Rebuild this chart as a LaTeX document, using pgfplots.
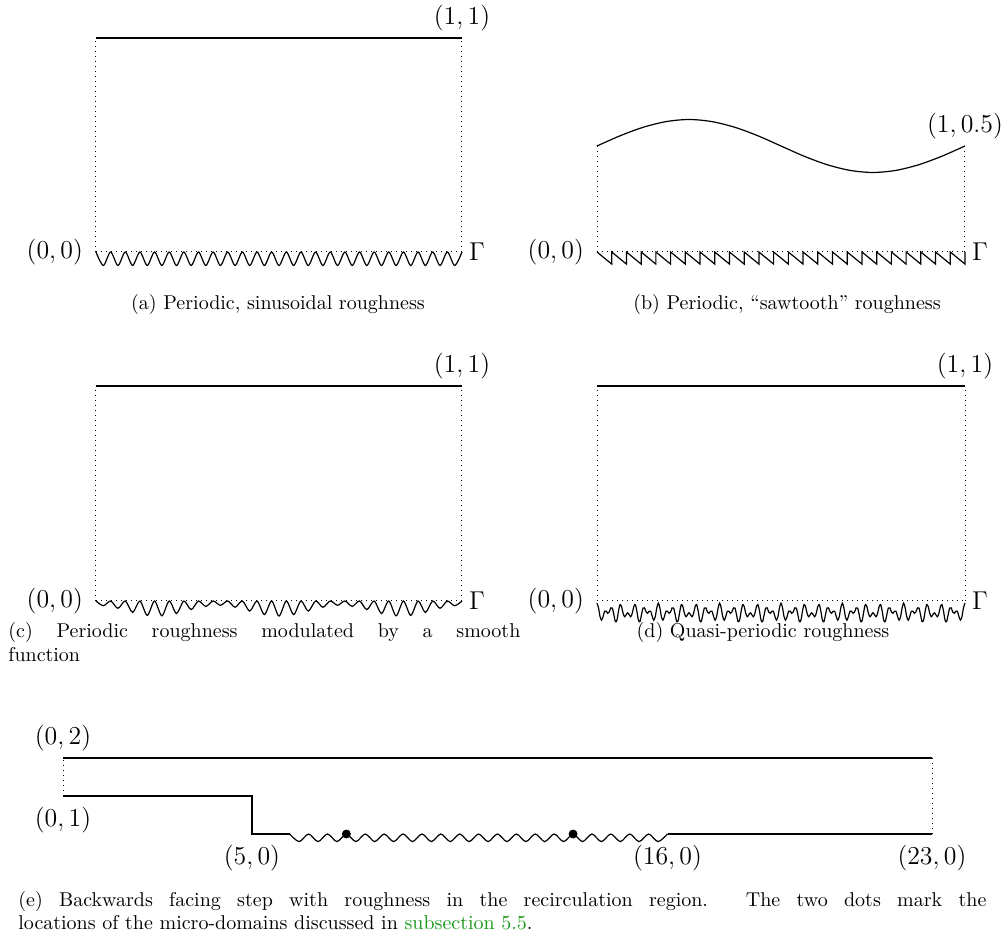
\documentclass[border=0pt]{standalone}
\usepackage{fix-cm}
\usepackage{xcolor}
\usepackage{pgfplots}
\pgfplotsset{compat=1.18}
\definecolor{linkgreen}{rgb}{0.1,0.6,0.1}
\newcommand{\lbl}{\fontsize{12.9}{15.5}\selectfont}
\pgfplotsset{
  panel/.style={axis lines=none, ticks=none, scale only axis, clip=false, anchor=south west, ymin=0},
  wall/.style={black, line width=0.6pt},
  dots/.style={black, line width=0.5pt, dotted},
}
\tikzset{lab/.style={font=\lbl}}
\begin{document}
\begin{tikzpicture}
\path[use as bounding box] (0pt,0pt) rectangle (501.5pt,-470.5pt);

% ---------- (a) ----------
\begin{axis}[panel, at={(48pt,-126pt)}, width=183pt, height=107pt, xmin=0, xmax=50, ymax=1]
\addplot[dots] coordinates {(0,0)(0,1)};
\addplot[dots] coordinates {(50,0)(50,1)};
\addplot[dots] coordinates {(0,0)(50,0)};
\addplot[wall] coordinates {(0,1)(50,1)};
\addplot[wall, smooth] coordinates {(0,0)(1,-0.063)(2,0)(3,-0.063)(4,0)(5,-0.063)(6,0)(7,-0.063)(8,0)(9,-0.063)(10,0)(11,-0.063)(12,0)(13,-0.063)(14,0)(15,-0.063)(16,0)(17,-0.063)(18,0)(19,-0.063)(20,0)(21,-0.063)(22,0)(23,-0.063)(24,0)(25,-0.063)(26,0)(27,-0.063)(28,0)(29,-0.063)(30,0)(31,-0.063)(32,0)(33,-0.063)(34,0)(35,-0.063)(36,0)(37,-0.063)(38,0)(39,-0.063)(40,0)(41,-0.063)(42,0)(43,-0.063)(44,0)(45,-0.063)(46,0)(47,-0.063)(48,0)(49,-0.063)(50,0)};
\node[lab, above] at (axis cs:50,1) {$(1,1)$};
\node[lab, anchor=east, xshift=-3pt] at (axis cs:0,0) {$(0,0)$};
\node[lab, right] at (axis cs:50,0) {$\Gamma$};
\end{axis}

% ---------- (b) ----------
\begin{axis}[panel, at={(298.5pt,-126pt)}, width=184pt, height=53pt, xmin=0, xmax=400, ymax=0.5]
\addplot[dots] coordinates {(0,0)(0,0.5)};
\addplot[dots] coordinates {(400,0)(400,0.5)};
\addplot[dots] coordinates {(0,0)(400,0)};
\addplot[wall, smooth] coordinates {(0,0.5)(25,0.548)(50,0.588)(75,0.615)(100,0.625)(125,0.615)(150,0.588)(175,0.548)(200,0.5)(225,0.452)(250,0.412)(275,0.385)(300,0.375)(325,0.385)(350,0.412)(375,0.452)(400,0.5)};
\addplot[wall, sharp plot] coordinates {(0,0)(16,-0.057)(16,0)(32,-0.057)(32,0)(48,-0.057)(48,0)(64,-0.057)(64,0)(80,-0.057)(80,0)(96,-0.057)(96,0)(112,-0.057)(112,0)(128,-0.057)(128,0)(144,-0.057)(144,0)(160,-0.057)(160,0)(176,-0.057)(176,0)(192,-0.057)(192,0)(208,-0.057)(208,0)(224,-0.057)(224,0)(240,-0.057)(240,0)(256,-0.057)(256,0)(272,-0.057)(272,0)(288,-0.057)(288,0)(304,-0.057)(304,0)(320,-0.057)(320,0)(336,-0.057)(336,0)(352,-0.057)(352,0)(368,-0.057)(368,0)(384,-0.057)(384,0)(400,-0.057)(400,0)};
\node[lab, above] at (axis cs:400,0.5) {$(1,0.5)$};
\node[lab, anchor=east, xshift=-3pt] at (axis cs:0,0) {$(0,0)$};
\node[lab, right] at (axis cs:400,0) {$\Gamma$};
\end{axis}

% ---------- (c) ----------
\begin{axis}[panel, at={(48pt,-300.5pt)}, width=183pt, height=107.5pt, xmin=0, xmax=50, ymax=1]
\addplot[dots] coordinates {(0,0)(0,1)};
\addplot[dots] coordinates {(50,0)(50,1)};
\addplot[dots] coordinates {(0,0)(50,0)};
\addplot[wall] coordinates {(0,1)(50,1)};
\addplot[wall, smooth] coordinates {(0,0)(1,-0.022)(2,0)(3,-0.034)(4,0)(5,-0.053)(6,0)(7,-0.067)(8,0)(9,-0.069)(10,0)(11,-0.058)(12,0)(13,-0.040)(14,0)(15,-0.025)(16,0)(17,-0.020)(18,0)(19,-0.029)(20,0)(21,-0.047)(22,0)(23,-0.063)(24,0)(25,-0.070)(26,0)(27,-0.063)(28,0)(29,-0.047)(30,0)(31,-0.029)(32,0)(33,-0.020)(34,0)(35,-0.025)(36,0)(37,-0.040)(38,0)(39,-0.058)(40,0)(41,-0.069)(42,0)(43,-0.067)(44,0)(45,-0.053)(46,0)(47,-0.034)(48,0)(49,-0.022)(50,0)};
\node[lab, above] at (axis cs:50,1) {$(1,1)$};
\node[lab, anchor=east, xshift=-3pt] at (axis cs:0,0) {$(0,0)$};
\node[lab, right] at (axis cs:50,0) {$\Gamma$};
\end{axis}

% ---------- (d) ----------
\begin{axis}[panel, at={(298.5pt,-300.5pt)}, width=184pt, height=107.5pt, xmin=0, xmax=240, ymax=1000]
\addplot[dots] coordinates {(0,0)(0,1000)};
\addplot[dots] coordinates {(240,0)(240,1000)};
\addplot[dots] coordinates {(0,0)(240,0)};
\addplot[wall] coordinates {(0,1000)(240,1000)};
\addplot[wall, smooth] coordinates {
(0,-10)(1,-32)(2,-73)(3,-89)(4,-71)(5,-48)(6,-48)(7,-57)(8,-51)(9,-32)(10,-33)(11,-64)(12,-96)(13,-89)(14,-48)(15,-17)(16,-26)(17,-57)(18,-73)(19,-64)(20,-55)(21,-64)(22,-73)(23,-57)(24,-26)(25,-17)(26,-48)(27,-89)(28,-96)(29,-64)(30,-33)(31,-32)(32,-51)(33,-57)(34,-48)(35,-48)(36,-71)(37,-89)(38,-73)(39,-32)
(40,-10)(41,-32)(42,-73)(43,-89)(44,-71)(45,-48)(46,-48)(47,-57)(48,-51)(49,-32)(50,-33)(51,-64)(52,-96)(53,-89)(54,-48)(55,-17)(56,-26)(57,-57)(58,-73)(59,-64)(60,-55)(61,-64)(62,-73)(63,-57)(64,-26)(65,-17)(66,-48)(67,-89)(68,-96)(69,-64)(70,-33)(71,-32)(72,-51)(73,-57)(74,-48)(75,-48)(76,-71)(77,-89)(78,-73)(79,-32)
(80,-10)(81,-32)(82,-73)(83,-89)(84,-71)(85,-48)(86,-48)(87,-57)(88,-51)(89,-32)(90,-33)(91,-64)(92,-96)(93,-89)(94,-48)(95,-17)(96,-26)(97,-57)(98,-73)(99,-64)(100,-55)(101,-64)(102,-73)(103,-57)(104,-26)(105,-17)(106,-48)(107,-89)(108,-96)(109,-64)(110,-33)(111,-32)(112,-51)(113,-57)(114,-48)(115,-48)(116,-71)(117,-89)(118,-73)(119,-32)
(120,-10)(121,-32)(122,-73)(123,-89)(124,-71)(125,-48)(126,-48)(127,-57)(128,-51)(129,-32)(130,-33)(131,-64)(132,-96)(133,-89)(134,-48)(135,-17)(136,-26)(137,-57)(138,-73)(139,-64)(140,-55)(141,-64)(142,-73)(143,-57)(144,-26)(145,-17)(146,-48)(147,-89)(148,-96)(149,-64)(150,-33)(151,-32)(152,-51)(153,-57)(154,-48)(155,-48)(156,-71)(157,-89)(158,-73)(159,-32)
(160,-10)(161,-32)(162,-73)(163,-89)(164,-71)(165,-48)(166,-48)(167,-57)(168,-51)(169,-32)(170,-33)(171,-64)(172,-96)(173,-89)(174,-48)(175,-17)(176,-26)(177,-57)(178,-73)(179,-64)(180,-55)(181,-64)(182,-73)(183,-57)(184,-26)(185,-17)(186,-48)(187,-89)(188,-96)(189,-64)(190,-33)(191,-32)(192,-51)(193,-57)(194,-48)(195,-48)(196,-71)(197,-89)(198,-73)(199,-32)
(200,-10)(201,-32)(202,-73)(203,-89)(204,-71)(205,-48)(206,-48)(207,-57)(208,-51)(209,-32)(210,-33)(211,-64)(212,-96)(213,-89)(214,-48)(215,-17)(216,-26)(217,-57)(218,-73)(219,-64)(220,-55)(221,-64)(222,-73)(223,-57)(224,-26)(225,-17)(226,-48)(227,-89)(228,-96)(229,-64)(230,-33)(231,-32)(232,-51)(233,-57)(234,-48)(235,-48)(236,-71)(237,-89)(238,-73)(239,-32)
(240,-10)};
\node[lab, above] at (axis cs:240,1000) {$(1,1)$};
\node[lab, anchor=east, xshift=-3pt] at (axis cs:0,0) {$(0,0)$};
\node[lab, right] at (axis cs:240,0) {$\Gamma$};
\end{axis}

% ---------- (e) ----------
\begin{axis}[panel, at={(31.5pt,-417pt)}, width=434.5pt, height=38pt, xmin=0, xmax=23, ymax=2]
\addplot[dots] coordinates {(0,1)(0,2)};
\addplot[dots] coordinates {(23,0)(23,2)};
\addplot[wall] coordinates {(0,2)(23,2)};
\addplot[wall, sharp plot] coordinates {(0,1)(5,1)(5,0)(6,0)};
\addplot[wall, smooth] coordinates {(6,0)(6.25,-0.2)(6.5,0)(6.75,-0.2)(7,0)(7.25,-0.2)(7.5,0)(7.75,-0.2)(8,0)(8.25,-0.2)(8.5,0)(8.75,-0.2)(9,0)(9.25,-0.2)(9.5,0)(9.75,-0.2)(10,0)(10.25,-0.2)(10.5,0)(10.75,-0.2)(11,0)(11.25,-0.2)(11.5,0)(11.75,-0.2)(12,0)(12.25,-0.2)(12.5,0)(12.75,-0.2)(13,0)(13.25,-0.2)(13.5,0)(13.75,-0.2)(14,0)(14.25,-0.2)(14.5,0)(14.75,-0.2)(15,0)(15.25,-0.2)(15.5,0)(15.75,-0.2)(16,0)};
\addplot[wall] coordinates {(16,0)(23,0)};
\addplot[only marks, mark=*, mark size=2pt, black] coordinates {(7.5,0)(13.5,0)};
\node[lab, above] at (axis cs:0,2) {$(0,2)$};
\node[lab, below, yshift=-2pt] at (axis cs:0,1) {$(0,1)$};
\node[lab, below, yshift=-2pt] at (axis cs:5,0) {$(5,0)$};
\node[lab, below, yshift=-2pt] at (axis cs:16,0) {$(16,0)$};
\node[lab, below, yshift=-2pt] at (axis cs:23,0) {$(23,0)$};
\end{axis}

% ---------- captions ----------
\node[anchor=base, inner sep=0pt] at (139pt,-155pt) {(a) Periodic, sinusoidal roughness};
\node[anchor=base, inner sep=0pt] at (393.5pt,-155pt) {(b) Periodic, ``sawtooth'' roughness};
\node[anchor=base west, inner sep=0pt] at (4pt,-319pt) {\parbox[t]{256pt}{(c) Periodic roughness modulated by a smooth\linebreak function}};
\node[anchor=base, inner sep=0pt] at (381.5pt,-319pt) {(d) Quasi-periodic roughness};
\node[anchor=base west, inner sep=0pt] at (9pt,-453pt) {\parbox[t]{484pt}{(e) Backwards facing step with roughness in the recirculation region.  The two dots mark the\linebreak locations of the micro-domains discussed in \textcolor{linkgreen}{subsection 5.5}.}};
\end{tikzpicture}
\end{document}
